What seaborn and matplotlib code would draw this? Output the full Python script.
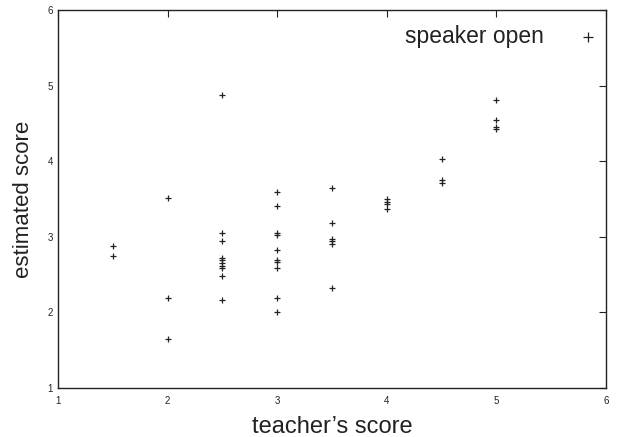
import matplotlib
matplotlib.use("Agg")
import matplotlib.pyplot as plt
import seaborn as sns
import pandas as pd

sns.set_theme(style="white")
plt.rcParams['font.family'] = ['Liberation Sans', 'DejaVu Sans']

# teacher's score -> estimated scores
teacher = ([1.5] * 2 + [2.0] * 3 + [2.5] * 10 + [3.0] * 10 +
           [3.5] * 6 + [4.0] * 4 + [4.5] * 3 + [5.0] * 4)
estimated = [2.88, 2.75,
             3.51, 2.19, 1.65,
             4.88, 3.05, 2.95, 2.72, 2.69, 2.66, 2.62, 2.59, 2.48, 2.17,
             3.59, 3.41, 3.05, 3.03, 2.83, 2.69, 2.67, 2.59, 2.19, 2.00,
             3.64, 3.18, 2.97, 2.94, 2.90, 2.33,
             3.50, 3.46, 3.43, 3.37,
             4.03, 3.75, 3.71,
             4.81, 4.55, 4.45, 4.43]
ticks = [1, 2, 3, 4, 5, 6]

df = pd.DataFrame({'teacher': teacher, 'estimated': estimated})

fig = plt.figure(figsize=(6.22, 4.37), dpi=100)
ax = fig.add_axes([0.0932, 0.112, 0.881, 0.865])
sns.scatterplot(data=df, x='teacher', y='estimated', marker='+', s=24,
                color='#222222', linewidth=0.9, label='speaker open', ax=ax)

ax.set_xlim(1, 6)
ax.set_ylim(1, 6)
ax.set_xticks(ticks)
ax.set_yticks(ticks)
ax.tick_params(direction='in', length=5, width=0.8, labelsize=7,
               top=True, right=True, colors='#222222')
ax.tick_params(axis='x', pad=6)
for s in ax.spines.values():
    s.set_color('#222222')
    s.set_linewidth(1.0)
ax.set_xlabel("teacher’s score", fontsize=17, color='#222222', labelpad=7)
ax.set_ylabel("estimated score", fontsize=16, color='#222222', labelpad=10)

leg = ax.legend(loc='upper right', bbox_to_anchor=(1.004, 0.984),
                frameon=False, markerfirst=False,
                fontsize=16.5, handletextpad=1.4, borderaxespad=0.0,
                handlelength=1.0, markerscale=1.6)
for t in leg.get_texts():
    t.set_color('#222222')

fig.savefig("out.png", dpi=100)
